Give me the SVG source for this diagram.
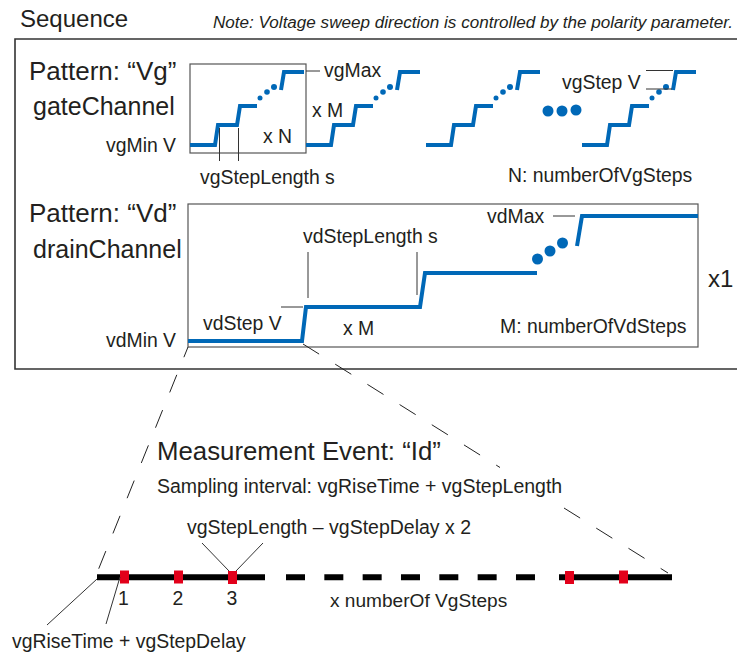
<svg xmlns="http://www.w3.org/2000/svg" xmlns:xlink="http://www.w3.org/1999/xlink" width="737" height="655" viewBox="0 0 737 655">
<style>
text{font-family:"Liberation Sans",Arial,sans-serif;fill:#231f20}
.lbl{font-size:19.4px}
.big{font-size:25.5px}
.wave{fill:none;stroke:#0068b7;stroke-width:4;stroke-linejoin:miter}
.dot{fill:#0068b7}
.box{fill:none;stroke:#555;stroke-width:1.2}
.lead{fill:none;stroke:#333;stroke-width:1}
.proj{fill:none;stroke:#222;stroke-width:1;stroke-dasharray:19 19}
.tl{fill:none;stroke:#000;stroke-width:6}
.mk{fill:#e2001a}
</style>
<defs>
<g id="vgwave">
<path class="wave" d="M0,145 H25 L28,125 H47 L50,106 H67 M91,90 L94,72 H114"/>
<circle class="dot" cx="70" cy="98" r="2.5"/>
<circle class="dot" cx="77" cy="92" r="2.8"/>
<circle class="dot" cx="84" cy="87" r="3"/>
</g>
</defs>
<rect width="737" height="655" fill="#fff"/>

<g id="title">
<text x="20" y="27" style="font-size:24px">Sequence</text>
<text x="213" y="28" style="font-size:16px;font-style:italic" textLength="520" lengthAdjust="spacingAndGlyphs">Note: Voltage sweep direction is controlled by the polarity parameter.</text>
</g>

<g id="sequence-frame">
<path d="M737,39 H15 V369 H737" fill="none" stroke="#333" stroke-width="1.6"/>
</g>

<g id="vg-pattern">
<text class="big" x="29" y="80" style="font-size:26px">Pattern: “Vg”</text>
<text class="big" x="33" y="115" style="font-size:25px">gateChannel</text>
<text class="lbl" x="106" y="152">vgMin V</text>
<rect class="box" x="190" y="64" width="116" height="89"/>
<use xlink:href="#vgwave" href="#vgwave" x="190"/>
<use xlink:href="#vgwave" href="#vgwave" x="306"/>
<use xlink:href="#vgwave" href="#vgwave" x="426"/>
<use xlink:href="#vgwave" href="#vgwave" x="582"/>
<circle class="dot" cx="548" cy="111" r="5.5"/>
<circle class="dot" cx="562" cy="111" r="5.5"/>
<circle class="dot" cx="576" cy="110" r="5.5"/>
<text class="lbl" x="263" y="143">x N</text>
<text class="lbl" x="324" y="77">vgMax</text>
<text class="lbl" x="312" y="117">x M</text>
<text class="lbl" x="200" y="184">vgStepLength s</text>
<text class="lbl" x="562" y="89">vgStep V</text>
<text class="lbl" x="508" y="182">N: numberOfVgSteps</text>
</g>

<g id="vd-pattern">
<text class="big" x="29" y="222" style="font-size:26px">Pattern: “Vd”</text>
<text class="big" x="33" y="258" style="font-size:25px">drainChannel</text>
<text class="lbl" x="106" y="347">vdMin V</text>
<rect class="box" x="188" y="204" width="510" height="143"/>
<path class="wave" d="M188,341 H302 L306,307 H420 L425,273 H537 M577,246 L582,216 H698"/>
<circle class="dot" cx="537.5" cy="259" r="5.5"/>
<circle class="dot" cx="550" cy="251" r="5.5"/>
<circle class="dot" cx="562.5" cy="243" r="5.5"/>
<text class="lbl" x="303" y="243">vdStepLength s</text>
<text class="lbl" x="203" y="330">vdStep V</text>
<text class="lbl" x="343" y="335">x M</text>
<text class="lbl" x="487" y="223">vdMax</text>
<text class="lbl" x="500" y="333">M: numberOfVdSteps</text>
<text x="708" y="287" style="font-size:24px">x1</text>
</g>

<g id="measurement-event">
<text x="157" y="460" style="font-size:25.8px">Measurement Event: “Id”</text>
<text class="lbl" x="157" y="493" style="font-size:19.5px">Sampling interval: vgRiseTime + vgStepLength</text>
<text class="lbl" x="187" y="534" style="font-size:19.5px">vgStepLength – vgStepDelay x 2</text>
</g>

<g id="timeline">
<path class="tl" d="M97,577.3 H265"/>
<path class="tl" d="M286,577.3 H535" style="stroke-dasharray:19 19.33"/>
<path class="tl" d="M559,577.3 H672"/>
<rect class="mk" x="120" y="570.5" width="9" height="13"/>
<rect class="mk" x="174" y="570.5" width="9" height="13"/>
<rect class="mk" x="228" y="571" width="9" height="13"/>
<rect class="mk" x="565" y="571" width="9" height="13"/>
<rect class="mk" x="619" y="570.5" width="9" height="13"/>
<text class="lbl" x="123.5" y="605" text-anchor="middle">1</text>
<text class="lbl" x="178" y="605" text-anchor="middle">2</text>
<text class="lbl" x="232" y="605" text-anchor="middle">3</text>
<text class="lbl" x="330" y="607" style="font-size:19.1px">x numberOf VgSteps</text>
<text class="lbl" x="12" y="648">vgRiseTime + vgStepDelay</text>
</g>

<g id="connectors">
<path class="lead" d="M219.5,128 V161 M238.5,128 V161"/>
<path class="lead" d="M306,71 H320"/>
<path class="lead" d="M646,70.5 H673 M646,89 H672"/>
<path class="lead" d="M308,252 V298 M417,252 V295"/>
<path class="lead" d="M281,307 H303"/>
<path class="lead" d="M553,216 H575"/>
<path class="lead" d="M202,543 L229,571 M263,543 L236,571"/>
<path class="lead" d="M97,579 L47,625 M120,577 L106,624"/>
<path class="proj" d="M188,347 L97,573" style="stroke-dashoffset:8"/>
<path class="proj" d="M303,344 L500,467.5"/>
<path class="proj" d="M564,508 L668,573"/>
</g>
</svg>
